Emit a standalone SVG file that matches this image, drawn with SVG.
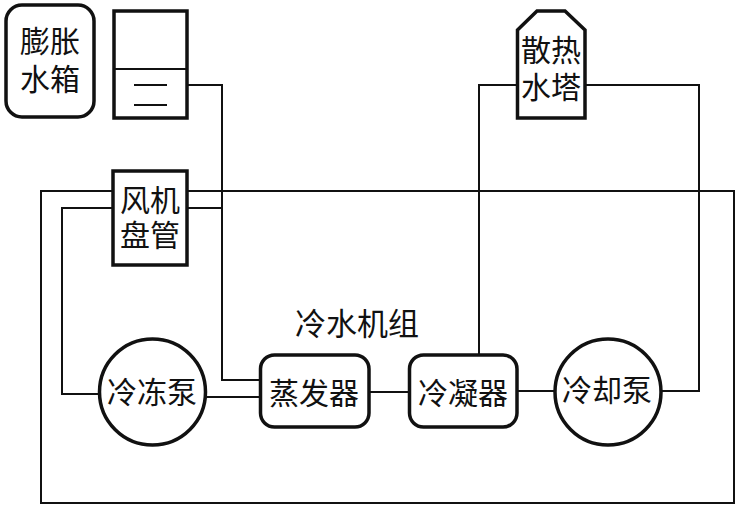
<svg xmlns="http://www.w3.org/2000/svg" width="738" height="509" viewBox="0 0 738 509">
  <style>
    .shape { fill: #fff; stroke: #111; stroke-width: 3.5; }
    .wire { fill: none; stroke: #111; stroke-width: 2; }
    .thin { fill: none; stroke: #111; stroke-width: 1.8; }
    text { font-family: "Noto Sans CJK SC", "Noto Sans CJK JP", sans-serif; font-size: 30px; fill: #111; text-anchor: middle; }
  </style>
  <rect width="738" height="509" fill="#fff"/>
  <g id="connectors">
    <path class="wire" d="M187 85H222V380H261"/>
    <path class="wire" d="M187 208H222"/>
    <path class="wire" d="M113 191H41V503H734V191H187"/>
    <path class="wire" d="M113 208H62V394H100"/>
    <path class="wire" d="M206 397H261"/>
    <path class="wire" d="M369 392H409"/>
    <path class="wire" d="M517 391H555"/>
    <path class="wire" d="M479 355V85H518"/>
    <path class="wire" d="M585 85H699V391H661"/>
  </g>
  <g id="expansion-tank-label">
    <rect class="shape" x="6" y="5" width="88" height="112" rx="16"/>
    <text x="50" y="52">膨胀<tspan x="50" dy="38">水箱</tspan></text>
  </g>
  <g id="expansion-tank">
    <rect class="shape" x="114" y="11" width="73" height="107"/>
    <path class="thin" d="M114 69H187"/>
    <path class="thin" d="M134 85H167M134 105H167"/>
  </g>
  <g id="fan-coil">
    <rect class="shape" x="113" y="171" width="74" height="94"/>
    <text x="150" y="211">风机<tspan x="150" dy="35">盘管</tspan></text>
  </g>
  <g id="cooling-tower">
    <path class="shape" d="M517.500 30L537 11H565L585 30V118H517.500Z"/>
    <text x="551" y="61">散热<tspan x="551" dy="37">水塔</tspan></text>
  </g>
  <g id="chiller-label">
    <text x="357" y="335" style="font-size:31px">冷水机组</text>
  </g>
  <g id="chilled-pump">
    <circle class="shape" cx="152.500" cy="392" r="53"/>
    <text x="152" y="403">冷冻泵</text>
  </g>
  <g id="evaporator">
    <rect class="shape" x="260.500" y="355" width="108.500" height="72" rx="14"/>
    <text x="314" y="404">蒸发器</text>
  </g>
  <g id="condenser">
    <rect class="shape" x="409.500" y="355" width="107.500" height="72" rx="14"/>
    <text x="463" y="404">冷凝器</text>
  </g>
  <g id="cooling-pump">
    <circle class="shape" cx="608" cy="392" r="53"/>
    <text x="607" y="401">冷却泵</text>
  </g>
</svg>
